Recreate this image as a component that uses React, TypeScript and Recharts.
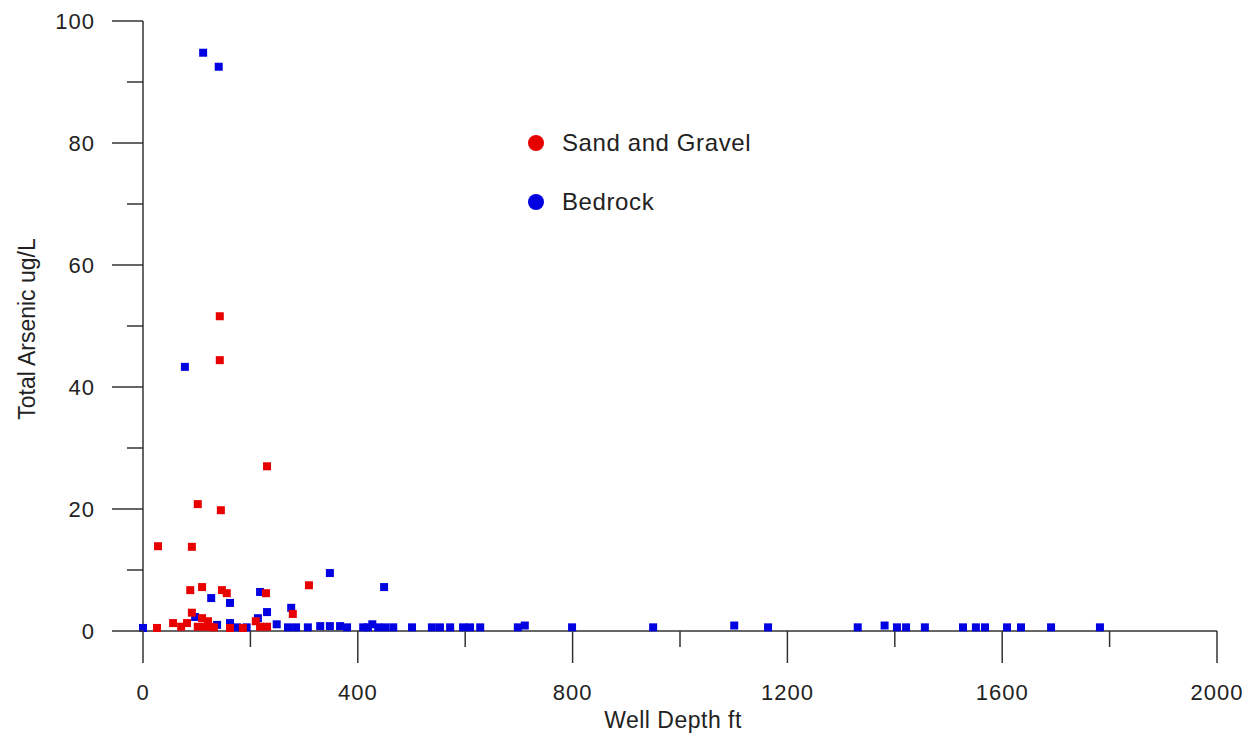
import React from 'react';
import { ScatterChart, Scatter, XAxis, YAxis, ZAxis, Legend, Label } from 'recharts';

// Sand and Gravel wells: depth (ft) and total arsenic (ug/L)
const sandGravelDepth = [26, 56, 71, 82, 91, 102, 110, 115, 121, 125, 132, 162, 186, 210, 218, 231, 279, 88, 110, 147, 156, 229, 309, 28, 91, 102, 145, 231, 143, 143];
const sandGravelArsenic = [0.5, 1.3, 0.7, 1.3, 3.0, 0.7, 2.1, 0.7, 1.6, 0.7, 0.6, 0.5, 0.5, 1.6, 0.7, 0.7, 2.8, 6.7, 7.2, 6.7, 6.2, 6.2, 7.5, 13.9, 13.8, 20.8, 19.8, 27.0, 44.4, 51.6];

// Bedrock wells
const bedrockDepth = [0, 112, 141, 78, 348, 449, 127, 162, 218, 276, 97, 231, 214, 138, 162, 175, 193, 249, 270, 285, 307, 330, 348, 367, 380, 410, 419, 427, 438, 451, 466, 501, 538, 553, 572, 596, 609, 628, 698, 711, 799, 950, 1101, 1164, 1331, 1381, 1404, 1421, 1456, 1527, 1551, 1568, 1609, 1635, 1691, 1782];
const bedrockArsenic = [0.5, 94.8, 92.5, 43.3, 9.5, 7.2, 5.4, 4.6, 6.4, 3.8, 2.3, 3.1, 2.1, 1.0, 1.3, 0.6, 0.6, 1.1, 0.6, 0.6, 0.6, 0.8, 0.8, 0.8, 0.6, 0.6, 0.6, 1.1, 0.6, 0.6, 0.6, 0.6, 0.6, 0.6, 0.6, 0.6, 0.6, 0.6, 0.6, 0.9, 0.6, 0.6, 0.9, 0.6, 0.6, 0.9, 0.6, 0.6, 0.6, 0.6, 0.6, 0.6, 0.6, 0.6, 0.6, 0.6];

const xTicks = [0, 200, 400, 600, 800, 1000, 1200, 1400, 1600, 1800, 2000];
const xLabelStep = 400;
const yTicks = [0, 10, 20, 30, 40, 50, 60, 70, 80, 90, 100];
const yLabelStep = 20;

const seriesNames = ['Sand and Gravel', 'Bedrock'];
const seriesColors = ['#e80000', '#0000e0'];

const sandGravel = sandGravelDepth.map((d, i) => ({ depth: d, arsenic: sandGravelArsenic[i] }));
const bedrock = bedrockDepth.map((d, i) => ({ depth: d, arsenic: bedrockArsenic[i] }));

const FONT = '"Liberation Sans", Arial, sans-serif';
const TEXT = '#222';
const AXIS = '#333';

const XTick = (props: any) => {
  const { x, y, payload } = props;
  const major = payload.value % xLabelStep === 0;
  return (
    <g>
      <line x1={x} x2={x} y1={y} y2={y + (major ? 32 : 16)} stroke={AXIS} strokeWidth={1.5} />
      {major && (
        <text x={x} y={y + 69} textAnchor="middle" fontFamily={FONT} fontSize={22} fill={TEXT} letterSpacing={1}>
          {payload.value}
        </text>
      )}
    </g>
  );
};

const YTick = (props: any) => {
  const { x, y, payload } = props;
  const major = payload.value % yLabelStep === 0;
  return (
    <g>
      <line x1={x - (major ? 31 : 16)} x2={x} y1={y} y2={y} stroke={AXIS} strokeWidth={1.5} />
      {major && (
        <text x={x - 48} y={y + 8} textAnchor="end" fontFamily={FONT} fontSize={22} fill={TEXT} letterSpacing={1}>
          {payload.value}
        </text>
      )}
    </g>
  );
};

const XTitle = (props: any) => {
  const vb = props.viewBox;
  return (
    <text x={vb.x + vb.width / 2 - 7} y={vb.y + 97} textAnchor="middle" fontFamily={FONT} fontSize={23} fill={TEXT} letterSpacing={0.5}>
      Well Depth ft
    </text>
  );
};

const YTitle = (props: any) => {
  const vb = props.viewBox;
  const cx = 27;
  const cy = vb.y + vb.height / 2 + 3;
  return (
    <text x={cx} y={cy} transform={`rotate(-90, ${cx}, ${cy})`} textAnchor="middle" fontFamily={FONT} fontSize={23} fill={TEXT}>
      Total Arsenic ug/L
    </text>
  );
};

const LegendContent = () => (
  <div style={{ position: 'relative', width: 300, height: 100 }}>
    {seriesNames.map((name, i) => (
      <div key={name} style={{ position: 'absolute', left: 0, top: i * 59, height: 30, display: 'flex', alignItems: 'center' }}>
        <svg width={18} height={18} style={{ display: 'block' }}>
          <circle cx={9} cy={9} r={8} fill={seriesColors[i]} />
        </svg>
        <span style={{ marginLeft: 17, fontFamily: FONT, fontSize: 24, color: TEXT, whiteSpace: 'nowrap', letterSpacing: 0.6 }}>{name}</span>
      </div>
    ))}
  </div>
);

export default function App() {
  return (
    <div style={{ width: 1240, height: 728, background: '#fff' }}>
      <ScatterChart width={1240} height={728} margin={{ top: 13, right: 31, bottom: 0, left: 0 }}>
        <XAxis
          type="number"
          dataKey="depth"
          domain={[0, 2000]}
          ticks={xTicks}
          interval={0}
          height={105}
          tickSize={0}
          tickMargin={0}
          tickLine={false}
          axisLine={{ stroke: AXIS, strokeWidth: 1.5 }}
          tick={<XTick />}
        >
          <Label content={<XTitle />} />
        </XAxis>
        <YAxis
          type="number"
          dataKey="arsenic"
          domain={[0, 100]}
          ticks={yTicks}
          interval={0}
          width={135}
          tickSize={0}
          tickMargin={0}
          tickLine={false}
          axisLine={{ stroke: AXIS, strokeWidth: 1.5 }}
          tick={<YTick />}
        >
          <Label content={<YTitle />} />
        </YAxis>
        <ZAxis range={[72, 72]} />
        <Legend
          layout="vertical"
          align="center"
          verticalAlign="middle"
          content={<LegendContent />}
          wrapperStyle={{ position: 'absolute', left: 519, top: 120, width: 300, height: 100 }}
        />
        <Scatter name={seriesNames[1]} data={bedrock} fill={seriesColors[1]} shape="square" isAnimationActive={false} />
        <Scatter name={seriesNames[0]} data={sandGravel} fill={seriesColors[0]} shape="square" isAnimationActive={false} />
      </ScatterChart>
    </div>
  );
}
